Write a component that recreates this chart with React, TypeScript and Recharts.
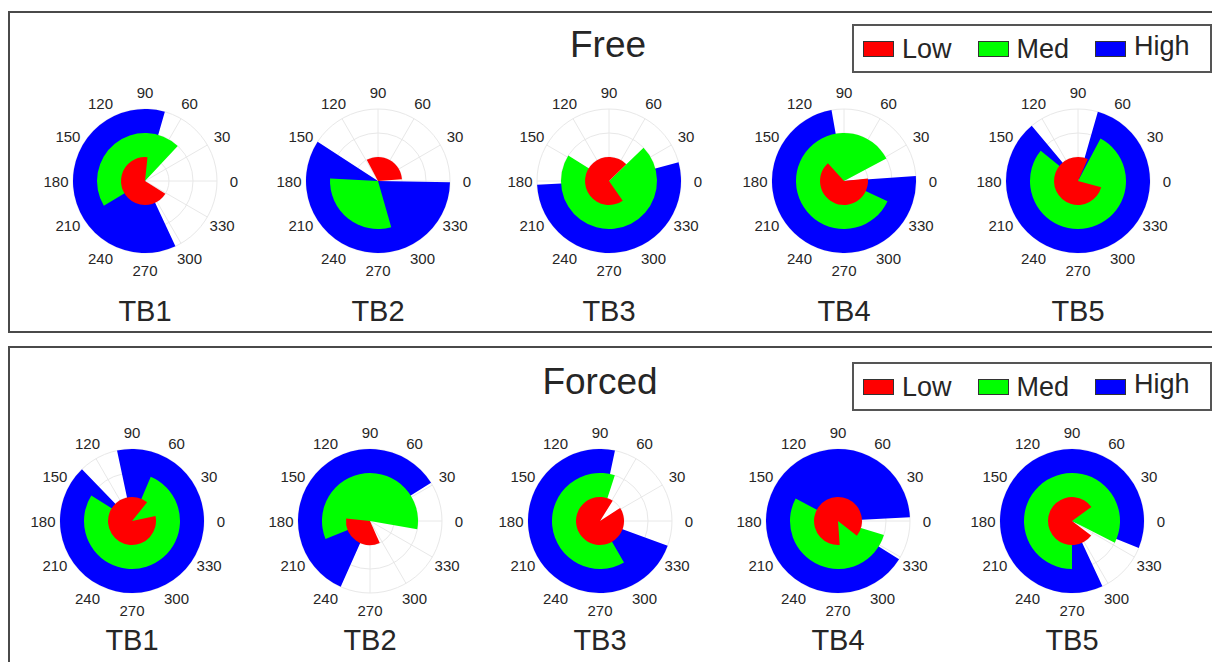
import React from 'react';
import { PieChart, Pie, RadarChart, PolarGrid, PolarAngleAxis, PolarRadiusAxis, Radar } from 'recharts';

const FONT = '"Liberation Sans", Arial, Helvetica, sans-serif';

// ---------- data ----------
const categories = ['TB1', 'TB2', 'TB3', 'TB4', 'TB5'];
const levels = ['Low', 'Med', 'High'];
const levelColors = ['#ff0000', '#00ff00', '#0000ff'];
const levelRadius = [1, 2, 3];
const radiusMax = 3;
// angular tick labels (first at the top, clockwise order as the radar axis lays them out)
const angleLabels = ['90', '60', '30', '0', '330', '300', '270', '240', '210', '180', '150', '120'];

// [startAngle, endAngle] in degrees, counter-clockwise from 0° (east)
const freeLow = [[84, 328], [4, 118], [44, 305], [132, 366], [66, 345]];
const freeMed = [[47, 211], [177, 286], [148, 404], [28, 335], [141, 422]];
const freeHigh = [[74, 295], [147, 359], [183, 375], [100, 364], [130, 434]];

const forcedLow = [[51, 372], [174, 294], [58, 393], [322, 634], [36, 323]];
const forcedMed = [[148, 427], [-10, 202], [72, 300], [152, 343], [333, 630]];
const forcedHigh = [[134, 462], [32, 246], [78, 340], [3, 328], [338, 655]];

// ---------- layout ----------
const R = 72;
const S = 230;

const Tick = (p: any) => (
  <text
    x={p.x}
    y={p.y}
    textAnchor="middle"
    dominantBaseline="central"
    fontSize={15}
    fontFamily={FONT}
    fill="#262626"
  >
    {p.payload.value}
  </text>
);

function Polar({ cx, cy, spans, label, labelY }: { cx: number; cy: number; spans: number[][]; label: string; labelY: number }) {
  const gridData = angleLabels.map((a) => ({ angle: a, v: 0 }));
  return (
    <>
      <div style={{ position: 'absolute', left: cx - S / 2, top: cy - S / 2, width: S, height: S }}>
        <RadarChart width={S} height={S} data={gridData} outerRadius={R} margin={{ top: 0, right: 0, bottom: 0, left: 0 }}>
          <PolarGrid gridType="circle" stroke="#e8e8e8" />
          <PolarAngleAxis dataKey="angle" tickLine={false} axisLine={false} tickSize={17} tick={Tick} />
          <PolarRadiusAxis type="number" domain={[0, radiusMax]} tickCount={4} tick={false} axisLine={false} />
          <Radar dataKey="v" stroke="none" fill="none" dot={false} isAnimationActive={false} />
        </RadarChart>
      </div>
      <div style={{ position: 'absolute', left: cx - R, top: cy - R, width: 2 * R, height: 2 * R }}>
        <PieChart width={2 * R} height={2 * R} margin={{ top: 0, right: 0, bottom: 0, left: 0 }}>
          {[2, 1, 0].map((i) => (
            <Pie
              key={levels[i]}
              data={[{ name: levels[i], value: spans[i][1] - spans[i][0] }]}
              dataKey="value"
              startAngle={spans[i][0]}
              endAngle={spans[i][1]}
              innerRadius={0}
              outerRadius={`${(levelRadius[i] / radiusMax) * 100}%`}
              fill={levelColors[i]}
              stroke="none"
              isAnimationActive={false}
            />
          ))}
        </PieChart>
      </div>
      <div
        style={{
          position: 'absolute',
          left: cx - 60,
          width: 120,
          top: labelY - 16,
          height: 32,
          lineHeight: '32px',
          textAlign: 'center',
          fontSize: 29,
          fontFamily: FONT,
          color: '#262626',
        }}
      >
        {label}
      </div>
    </>
  );
}

function Legend({ top }: { top: number }) {
  return (
    <div
      style={{
        position: 'absolute',
        left: 852,
        top,
        width: 347,
        height: 45,
        border: '2px solid #555',
        background: '#fff',
        display: 'flex',
        alignItems: 'center',
        paddingLeft: 9,
        boxSizing: 'content-box',
      }}
    >
      {levels.map((l, i) => (
        <div key={l} style={{ display: 'flex', alignItems: 'center', marginRight: 26 }}>
          <div
            style={{
              width: 29,
              height: 14,
              background: levelColors[i],
              border: '1px solid #333',
              marginRight: 8,
            }}
          />
          <span
            style={{
              fontSize: 27,
              fontFamily: FONT,
              color: '#262626',
              lineHeight: '30px',
              position: 'relative',
              top: l === 'High' ? -3 : 0,
            }}
          >
            {l}
          </span>
        </div>
      ))}
    </div>
  );
}

const panels = [
  {
    title: 'Free',
    top: 11,
    height: 318,
    titleX: 608,
    titleY: 45,
    legendTop: 24,
    cy: 181,
    labelY: 311,
    xs: [145, 378, 609, 844, 1078],
    low: freeLow,
    med: freeMed,
    high: freeHigh,
  },
  {
    title: 'Forced',
    top: 346,
    height: 330,
    titleX: 600,
    titleY: 382,
    legendTop: 362,
    cy: 521,
    labelY: 640,
    xs: [132, 370, 600, 838, 1072],
    low: forcedLow,
    med: forcedMed,
    high: forcedHigh,
  },
];

export default function App() {
  return (
    <div style={{ position: 'absolute', left: 0, top: 0, width: 1212, height: 662, overflow: 'hidden', background: '#fff' }}>
      {panels.map((p) => (
        <React.Fragment key={p.title}>
          <div
            style={{
              position: 'absolute',
              left: 8,
              top: p.top,
              width: 1220,
              height: p.height,
              border: '2px solid #4a4a4a',
            }}
          />
          <div
            style={{
              position: 'absolute',
              left: p.titleX - 100,
              width: 200,
              top: p.titleY - 22,
              height: 44,
              lineHeight: '44px',
              textAlign: 'center',
              fontSize: 37,
              fontFamily: FONT,
              color: '#262626',
            }}
          >
            {p.title}
          </div>
          <Legend top={p.legendTop} />
          {categories.map((c, k) => (
            <Polar
              key={c}
              cx={p.xs[k]}
              cy={p.cy}
              spans={[p.low[k], p.med[k], p.high[k]]}
              label={c}
              labelY={p.labelY}
            />
          ))}
        </React.Fragment>
      ))}
    </div>
  );
}
